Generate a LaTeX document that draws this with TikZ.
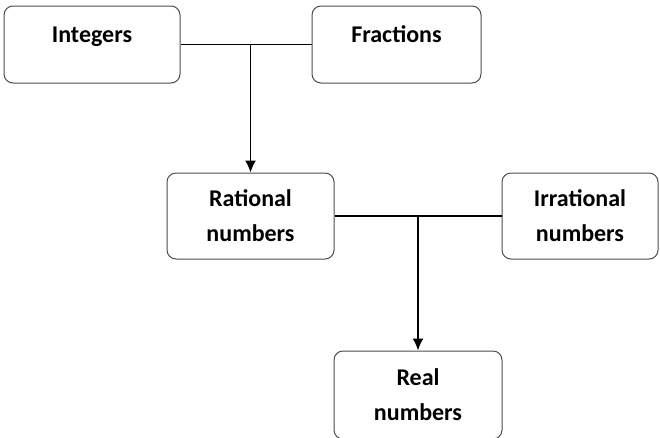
\documentclass[tikz,border=0pt]{standalone}
\usepackage{fontspec}
\setmainfont{Carlito}
\usetikzlibrary{arrows.meta}
\tikzset{
	box/.style={draw=black!70, line width=1pt, rounded corners=9pt, inner sep=0pt,
		align=center, font=\bfseries\fontsize{24}{35}\selectfont},
	onebox/.style={box, text height=16pt, text depth=21pt},
	link/.style={line width=1.6pt},
	feed/.style={link, -{Latex[length=12pt,width=11pt]}}
}

\begin{document}
\begin{tikzpicture}[x=1pt,y=-1pt]
	\useasboundingbox (0,0) rectangle (660,437);

	\node[onebox, minimum width=176pt, minimum height=77pt] (int) at (92,44.5) {Integers};
	\node[onebox, minimum width=169pt, minimum height=77pt] (frac) at (396.5,44.5) {Fractions};
	\node[box, minimum width=167pt, minimum height=86pt] (rat) at (250.5,216) {Rational\\numbers};
	\node[box, minimum width=156pt, minimum height=86pt] (irr) at (580,216) {Irrational\\numbers};
	\node[box, minimum width=168pt, minimum height=88pt] (real) at (418,395) {Real\\numbers};

	\coordinate (topjoin) at (rat |- int);
	\coordinate (midjoin) at (real |- rat);

	\draw[link] (int) -- (frac);
	\draw[feed] (topjoin) -- (rat);
	\draw[link] (rat) -- (irr);
	\draw[feed] (midjoin) -- (real);

\end{tikzpicture}
\end{document}
